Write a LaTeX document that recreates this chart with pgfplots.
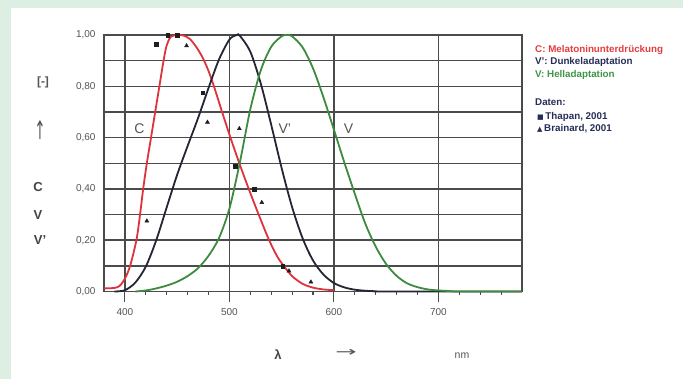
\documentclass[border=0pt]{standalone}
\usepackage{graphicx}
\usepackage{pgfplots}
\pgfplotsset{compat=1.18}
\usepackage{fontspec}
\setmainfont{Liberation Sans}
\newfontfamily\symfont{DejaVu Sans}
\definecolor{mint}{RGB}{221,239,226}
\definecolor{gridgray}{RGB}{75,75,75}
\definecolor{labgray}{RGB}{85,85,85}
\definecolor{curvered}{RGB}{222,50,60}
\definecolor{curvedark}{RGB}{35,38,52}
\definecolor{curvegreen}{RGB}{62,138,62}
\definecolor{legred}{RGB}{226,62,62}
\definecolor{legnavy}{RGB}{38,46,86}
\definecolor{leggreen}{RGB}{62,150,72}
\definecolor{markdark}{RGB}{30,30,30}

\begin{document}
\begin{tikzpicture}
\useasboundingbox (0,0) rectangle (683pt,379pt);
\fill[mint] (0,0) rectangle (683pt,379pt);
\fill[white] (11pt,0) rectangle (683pt,371pt);
\begin{axis}[
  at={(104pt,87.5pt)}, anchor=south west,
  scale only axis, width=418pt, height=256.5pt,
  xmin=380, xmax=780, ymin=0, ymax=1,
  xtick={400,500,600,700},
  minor xtick={420,440,460,480,520,540,560,580,620,640,660,680,720,740,760},
  ytick={0,0.2,0.4,0.6,0.8,1},
  minor ytick={0.1,0.3,0.5,0.7,0.9},
  xmajorgrids, ymajorgrids, yminorgrids,
  major grid style={gridgray, line width=1.4pt},
  minor grid style={gridgray, line width=1.4pt},
  axis line style={gridgray, line width=1.4pt},
  tick pos=left, tick align=outside,
  major tick length=11pt, minor tick length=3.5pt,
  every tick/.style={gridgray, line width=1.1pt},
  ytick style={draw=none},
  /pgf/number format/assume math mode=true,
  ticklabel style={font=\fontsize{10}{11}\selectfont, text=labgray},
  yticklabel style={/pgf/number format/fixed, /pgf/number format/fixed zerofill,
    /pgf/number format/precision=2, /pgf/number format/use comma, xshift=6pt},
  xticklabel style={/pgf/number format/1000 sep={}, yshift=-2pt},
  clip=false,
]
% C: melatonin suppression
\addplot[curvered, line width=1.8pt, smooth, tension=0.5] coordinates {
 (380,0.012) (390,0.014) (395,0.022) (400,0.050) (405,0.100) (411,0.200)
 (414.5,0.300) (417.5,0.400) (421,0.500) (425,0.600) (429,0.700) (433,0.800)
 (437,0.900) (440,0.960) (444,0.993) (450,1.000) (456,0.998) (462,0.985)
 (468,0.955) (474,0.915) (480,0.860) (486,0.790) (493,0.700) (501,0.600)
 (509.5,0.500) (518.5,0.400) (528,0.300) (538,0.200) (546,0.135) (552,0.100)
 (560,0.060) (570,0.030) (580,0.015) (590,0.008) (600,0.005)
};
% V': scotopic (dark adapted)
\addplot[curvedark, line width=1.8pt, smooth, tension=0.5] coordinates {
 (390,0.000) (400,0.005) (410,0.035) (420,0.097) (430,0.200) (440,0.328)
 (450,0.455) (460,0.567) (470,0.676) (480,0.793) (490,0.904) (500,0.982)
 (507,1.000) (510,0.997) (520,0.935) (530,0.811) (540,0.650) (550,0.481)
 (560,0.329) (570,0.208) (580,0.121) (590,0.066) (600,0.033) (610,0.016)
 (620,0.007) (630,0.003) (640,0.001) (650,0.000) (780,0.000)
};
% V: photopic (light adapted)
\addplot[curvegreen, line width=1.8pt, smooth, tension=0.5] coordinates {
 (410,0.000) (420,0.004) (430,0.012) (440,0.023) (450,0.038) (460,0.060)
 (470,0.091) (480,0.139) (490,0.208) (500,0.323) (510,0.503) (520,0.710)
 (530,0.862) (540,0.954) (550,0.995) (555,1.000) (560,0.995) (570,0.952)
 (580,0.870) (590,0.757) (600,0.631) (610,0.503) (620,0.381) (630,0.265)
 (640,0.175) (650,0.107) (660,0.061) (670,0.032) (680,0.017) (690,0.008)
 (700,0.004) (710,0.002) (720,0.000) (780,0.000)
};
% Thapan, 2001
\addplot[only marks, mark=square*, mark size=1.9pt, markdark] coordinates {
 (430,0.965) (441,1.000) (450,1.000) (474.5,0.775) (505.5,0.487) (523.5,0.400) (551,0.100)
};
% Brainard, 2001
\addplot[only marks, mark=triangle*, mark size=2.3pt, markdark] coordinates {
 (421,0.275) (459,0.958) (479,0.660) (509.5,0.635) (531,0.347) (557,0.080) (578,0.037)
};
\node[text=labgray, font=\fontsize{14}{14}\selectfont] at (axis cs:414,0.635) {C};
\node[text=labgray, font=\fontsize{14}{14}\selectfont] at (axis cs:553,0.635) {V'};
\node[text=labgray, font=\fontsize{14}{14}\selectfont] at (axis cs:614,0.635) {V};
\end{axis}
% quantity symbols on the left
\node[text=labgray, font=\bfseries\fontsize{12}{12}\selectfont] at (43pt,297pt) {[-]};
\node[text=labgray, font=\symfont\fontsize{15}{15}\selectfont] at (40pt,249pt) {\scalebox{0.9}[1.7]{↑}};
\node[text=labgray!80!black, font=\bfseries\fontsize{13}{13}\selectfont] at (38pt,192pt) {C};
\node[text=labgray!80!black, font=\bfseries\fontsize{13}{13}\selectfont] at (38pt,164pt) {V};
\node[text=labgray!80!black, font=\bfseries\fontsize{13}{13}\selectfont] at (40pt,139pt) {V'};
% wavelength axis
\node[text=labgray!80!black, font=\bfseries\fontsize{13}{13}\selectfont] at (278pt,24pt) {λ};
\node[text=labgray, font=\symfont\fontsize{15}{15}\selectfont] at (346pt,26pt) {\scalebox{1.7}[0.9]{→}};
\node[text=labgray, font=\fontsize{10.5}{10.5}\selectfont] at (462pt,23pt) {nm};
% key
\begin{scope}[every node/.style={anchor=west, inner sep=0pt, font=\bfseries\fontsize{9.8}{10}\selectfont}]
\node[text=legred] at (535pt,329.5pt) {C: Melatoninunterdrückung};
\node[text=legnavy] at (535pt,317pt) {V': Dunkeladaptation};
\node[text=leggreen] at (535pt,304pt) {V: Helladaptation};
\node[text=legnavy] at (535pt,277pt) {Daten:};
\node[text=legnavy] at (537pt,262pt) {{\symfont\fontsize{7}{7}\selectfont ■}\,Thapan, 2001};
\node[text=legnavy] at (537pt,250pt) {{\symfont\fontsize{7}{7}\selectfont ▲}\,Brainard, 2001};
\end{scope}
\end{tikzpicture}
\end{document}
